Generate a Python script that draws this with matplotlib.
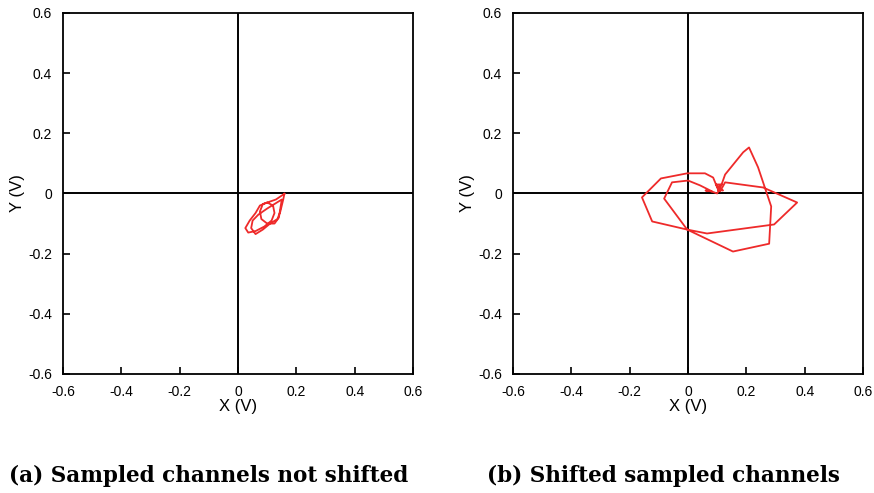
import matplotlib
matplotlib.use("Agg")
import matplotlib.pyplot as plt

tick_vals = [-0.6, -0.4, -0.2, 0, 0.2, 0.4, 0.6]
tick_labels = ["-0.6", "-0.4", "-0.2", "0", "0.2", "0.4", "0.6"]

# Panel (a): sampled channels not shifted
xa = [0.159, 0.13, 0.1, 0.075, 0.06, 0.04, 0.025, 0.035, 0.06, 0.09, 0.115, 0.125, 0.12, 0.1,
      0.085, 0.075, 0.08, 0.1, 0.125, 0.14, 0.145, 0.15, 0.125,
      0.1, 0.07, 0.05, 0.045, 0.06, 0.085, 0.11, 0.135, 0.145, 0.155, 0.159]
ya = [-0.001, -0.02, -0.03, -0.04, -0.065, -0.09, -0.115, -0.13, -0.125, -0.11, -0.09, -0.065, -0.04, -0.03,
      -0.035, -0.06, -0.085, -0.1, -0.1, -0.08, -0.05, -0.02, -0.035,
      -0.05, -0.07, -0.09, -0.115, -0.135, -0.12, -0.1, -0.085, -0.06, -0.02, -0.001]

# Panel (b): shifted sampled channels
xb = [0.103, 0.086, 0.058, -0.003, -0.093, -0.158, -0.123, -0.003, 0.065, 0.295, 0.374, 0.257,
      0.127, 0.11, 0.095, 0.115, 0.1, 0.08, 0.06, 0.082, 0.041, 0.0, -0.055, -0.082, -0.003,
      0.154, 0.278, 0.285, 0.24, 0.209, 0.189, 0.127, 0.115, 0.1, 0.12, 0.103]
yb = [0.013, 0.053, 0.067, 0.067, 0.05, -0.013, -0.093, -0.12, -0.133, -0.103, -0.03, 0.02,
      0.037, 0.007, 0.03, 0.03, 0.0, 0.007, 0.01, 0.007, 0.027, 0.043, 0.037, -0.017, -0.12,
      -0.193, -0.167, -0.043, 0.087, 0.153, 0.137, 0.063, 0.03, 0.02, 0.01, 0.013]

captions = ["(a) Sampled channels not shifted", "(b) Shifted sampled channels"]

fig = plt.figure(figsize=(8.74, 4.93), dpi=100)
lefts = [0.0721, 0.5870]
caption_x = [0.2386, 0.759]
data = [(xa, ya), (xb, yb)]
for i in range(2):
    ax = fig.add_axes([lefts[i], 0.2414, 0.4005, 0.7323])
    ax.axhline(0, color="black", lw=1.4, zorder=1)
    ax.axvline(0, color="black", lw=1.4, zorder=1)
    ax.plot(data[i][0], data[i][1], color="#ee2a2a", lw=1.3, zorder=2)
    ax.set_xlim(-0.6, 0.6)
    ax.set_ylim(-0.6, 0.6)
    ax.set_xticks(tick_vals)
    ax.set_xticklabels(tick_labels)
    ax.set_yticks(tick_vals)
    ax.set_yticklabels(tick_labels)
    ax.tick_params(direction="in", length=5, width=1.2, labelsize=10, pad=8)
    for lab in ax.get_xticklabels() + ax.get_yticklabels():
        lab.set_family("Liberation Sans")
    for s in ax.spines.values():
        s.set_linewidth(1.3)
    ax.set_xlabel("X (V)", family="Liberation Sans", fontsize=12, labelpad=0)
    ax.set_ylabel("Y (V)", family="Liberation Sans", fontsize=12, labelpad=2)
    fig.text(caption_x[i], 0.023, captions[i], ha="center", va="baseline",
             family="DejaVu Serif", fontweight="bold", fontsize=15.5)

fig.savefig("out.png", dpi=100)
